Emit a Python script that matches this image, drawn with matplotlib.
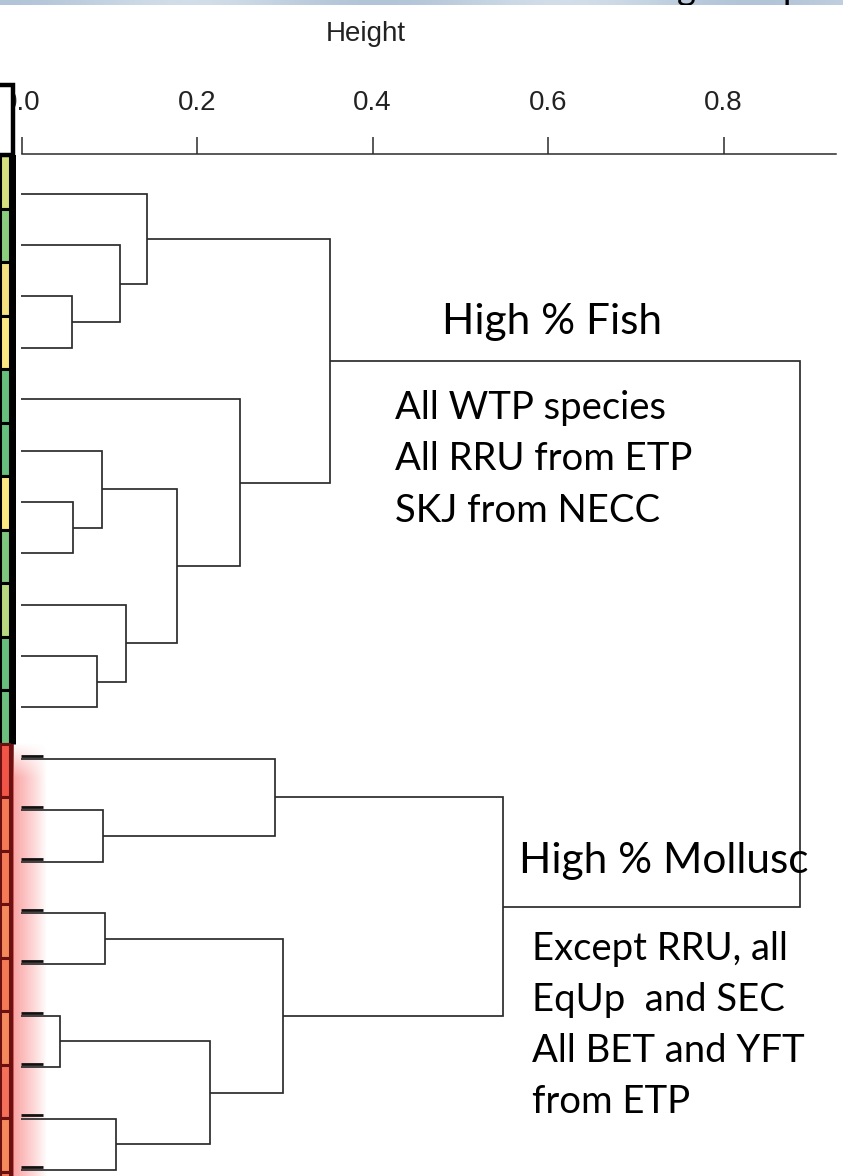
import numpy as np
import matplotlib
matplotlib.use("Agg")
import matplotlib.pyplot as plt
from matplotlib.patches import Rectangle

# ---------------- data ----------------
n_leaves = 20
# agglomerative merges: children < 20 are leaves (top to bottom), >= 20 are earlier merges
merge_left = [2, 6, 16, 9, 5, 12, 14, 18, 1, 8, 0, 24, 22, 4, 11, 26, 30, 34, 36]
merge_right = [3, 7, 17, 10, 21, 13, 15, 19, 20, 23, 28, 29, 27, 31, 25, 32, 33, 35, 37]
merge_height = [0.058, 0.059, 0.044, 0.086, 0.092, 0.093, 0.095, 0.108, 0.112, 0.119,
                0.143, 0.177, 0.215, 0.249, 0.289, 0.298, 0.351, 0.549, 0.887]

tick_values = [0.0, 0.2, 0.4, 0.6, 0.8]
tick_labels = ["0.0", "0.2", "0.4", "0.6", "0.8"]
axis_label = "Height"

cell_colors = ["#d6df80", "#8acd7f", "#f3e080", "#fbe883", "#66bf7c", "#66bf7c",
               "#fbe883", "#7cc67e", "#b8d87f", "#66bf7c", "#6cbf7c",
               "#f05548", "#f47a55", "#f47a55", "#f48a5c", "#f47a55", "#f48a5c",
               "#f4705a", "#f48a5c", "#f47a55"]
cell_group_size = 11  # first 11 cells green/yellow group, rest red group

fish_title = "High % Fish"
fish_lines = ["All WTP species", "All RRU from ETP", "SKJ from NECC"]
moll_title = "High % Mollusc"
moll_lines = ["Except RRU, all", "EqUp  and SEC", "All BET and YFT", "from ETP"]

# ---------------- figure ----------------
W, H = 843, 1176
fig = plt.figure(figsize=(W / 100, H / 100), dpi=100)
fig.patch.set_facecolor("white")


def fx(x):
    return x / W


def fy(y):
    return 1 - y / H


LINE = "#2b2b2b"

# main dendrogram axes: x = height, y = leaf index
ax = fig.add_axes([0, 0, 1, 1])
ax.set_xlim(-21.5 / 877.5, (W - 21.5) / 877.5)
ax.set_ylim((H - 193.7) / 51.38, -193.7 / 51.38)
ax.axis("off")
ax.set_zorder(3)
ax.patch.set_alpha(0)

pos_y = {i: float(i) for i in range(n_leaves)}
pos_h = {i: 0.0 for i in range(n_leaves)}
for k, (l, r, h) in enumerate(zip(merge_left, merge_right, merge_height)):
    node = n_leaves + k
    ax.plot([pos_h[l], h, h, pos_h[r]], [pos_y[l], pos_y[l], pos_y[r], pos_y[r]],
            color=LINE, lw=1.25, solid_joinstyle="miter", solid_capstyle="butt")
    pos_y[node] = (pos_y[l] + pos_y[r]) / 2
    pos_h[node] = h

# short dark leaf stubs over the red glow (red group)
stub_end = 0.025
for i in range(cell_group_size, n_leaves):
    ax.plot([0, stub_end], [pos_y[i] - 0.06, pos_y[i] - 0.06], color="#111111", lw=2.0,
            solid_capstyle="butt")

# top height axis
axh = fig.add_axes([fx(21.5), fy(154), (836 - 21.5) / W, 1e-4])
axh.set_xlim(0, (836 - 21.5) / 877.5)
axh.set_ylim(0, 1)
axh.patch.set_alpha(0)
for s in ["bottom", "left", "right"]:
    axh.spines[s].set_visible(False)
axh.spines["top"].set_color(LINE)
axh.spines["top"].set_linewidth(1.1)
axh.set_yticks([])
axh.set_xticks(tick_values)
axh.set_xticklabels(tick_labels, family="Liberation Sans", fontsize=20, color="#222222")
axh.tick_params(axis="x", top=True, labeltop=True, bottom=False, labelbottom=False,
                direction="out", length=12, width=1.1, color=LINE, pad=15)
fig.text(fx(366), fy(41), axis_label, ha="center", va="baseline",
         family="Liberation Sans", fontsize=20, color="#222222")

# left coloured cell column
cell_h = 53.5
axc = fig.add_axes([0, fy(155 + n_leaves * cell_h), 16 / W, n_leaves * cell_h / H])
axc.set_xlim(0, 1.6)
axc.set_ylim(n_leaves, 0)
axc.axis("off")
idx = np.arange(n_leaves)
edge = ["black" if i < cell_group_size else "#6b1010" for i in idx]
axc.barh(idx + 0.5, 1.0, height=1.0, left=0, color=cell_colors, edgecolor=edge,
         linewidth=2.2)
axc.vlines(1.25, -2, cell_group_size, color="black", lw=3.8)
axc.vlines(1.2, cell_group_size, n_leaves, color="#6b1010", lw=2.6)

# red glow next to the red group
axg = fig.add_axes([fx(13), 0, 34 / W, fy(742)])
gx = np.linspace(0, 1, 60)
gyy = np.linspace(0, 1, 200)
alpha = 0.62 * np.clip(1 - gx[None, :], 0, 1) ** 0.9
alpha = alpha * np.clip(gyy[:, None] / 0.08, 0, 1)
rgba = np.zeros((200, 60, 4))
rgba[..., 0] = 0.97
rgba[..., 1] = 0.42
rgba[..., 2] = 0.42
rgba[..., 3] = alpha
axg.imshow(rgba, aspect="auto", extent=(0, 1, 0, 1), origin="upper", interpolation="bilinear")
axg.axis("off")
axg.set_zorder(1)

# top-left header box
fig.patches.append(Rectangle((fx(-6), fy(155)), 18.5 / W, 70 / H, transform=fig.transFigure,
                             facecolor="white", edgecolor="black", linewidth=3.2, zorder=5))

# top banner strip
axb = fig.add_axes([0, fy(5), 1, 5 / H])
bx = np.linspace(0, 1, 300)
band = np.zeros((1, 300, 3))
band[0, :, 0] = 0.70 + 0.12 * np.sin(bx * 7) ** 2
band[0, :, 1] = 0.77 + 0.10 * np.sin(bx * 7) ** 2
band[0, :, 2] = 0.85 + 0.06 * np.sin(bx * 7) ** 2
axb.imshow(band, aspect="auto", extent=(0, 1, 0, 1))
axb.set_xlim(0, 1)
axb.set_ylim(0, 1)
axb.axis("off")
axb.text(fx(686), 1.0, "g", transform=axb.transAxes, ha="center", va="baseline",
         family="Lato", fontsize=26, color="black", clip_on=True)
axb.text(fx(793), 1.0, "p", transform=axb.transAxes, ha="center", va="baseline",
         family="Lato", fontsize=26, color="black", clip_on=True)

# annotations
TXT = dict(family="Lato", color="black", va="baseline", ha="left")
fig.text(fx(441.7), fy(334), fish_title, fontsize=30.5, **TXT)
for i, line in enumerate(fish_lines):
    fig.text(fx(395), fy(419 + 51.3 * i), line, fontsize=27.5, **TXT)
fig.text(fx(519), fy(873), moll_title, fontsize=30.5, **TXT)
for i, line in enumerate(moll_lines):
    fig.text(fx(532), fy(960 + 50.9 * i), line, fontsize=27.5, **TXT)

fig.savefig("out.png", dpi=100, facecolor="white")
